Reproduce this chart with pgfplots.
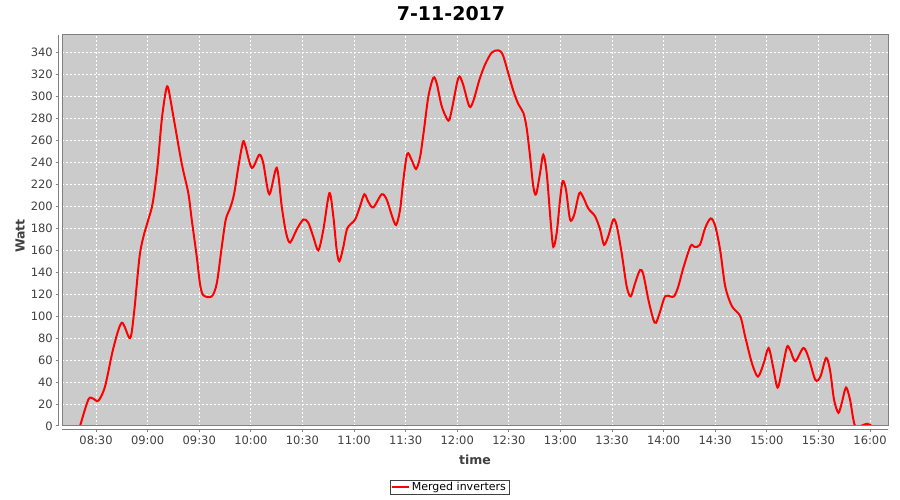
\documentclass[border=0pt]{standalone}
\usepackage{fontspec}
\setmainfont{DejaVu Sans}
\usepackage{pgfplots}
\pgfplotsset{compat=1.18}
\definecolor{plotbg}{HTML}{CBCBCB}
\definecolor{boxgray}{HTML}{808080}
\definecolor{labelgray}{HTML}{404040}

\begin{document}
\begin{tikzpicture}
\useasboundingbox (0pt,0pt) rectangle (900pt,500pt);
\begin{axis}[
  at={(62pt,74pt)}, anchor=south west,
  scale only axis, width=826pt, height=391pt,
  xmin=8.17, xmax=16.174, ymin=0, ymax=356,
  xtick={8.5,9,9.5,10,10.5,11,11.5,12,12.5,13,13.5,14,14.5,15,15.5,16},
  xticklabels={08:30,09:00,09:30,10:00,10:30,11:00,11:30,12:00,12:30,13:00,13:30,14:00,14:30,15:00,15:30,16:00},
  ytick={0,20,40,60,80,100,120,140,160,180,200,220,240,260,280,300,320,340},
  axis line style={draw=none},
  major tick length=0pt,
  axis background/.style={fill=plotbg},
  grid=major,
  grid style={white, line width=0.8pt, dash pattern=on 2pt off 2pt},
  clip mode=individual,
  tick label style={font=\fontsize{11.5}{13}\selectfont, text=labelgray, inner sep=0pt},
  xticklabel style={anchor=north, yshift=-10pt},
  yticklabel style={anchor=east, xshift=-9pt},
  /pgf/number format/assume math mode=true,
  xlabel={time}, ylabel={Watt},
  label style={font=\bfseries\fontsize{12.5}{14}\selectfont, text=labelgray},
  xlabel style={at={(axis description cs:0.5,-0.087)}, anchor=center},
  ylabel style={at={(axis description cs:-0.0508,0.486)}, anchor=center},
  legend style={at={(axis description cs:0.469,-0.156)}, anchor=center,
    draw=labelgray, line width=0.6pt, font=\fontsize{11}{13}\selectfont,
    inner xsep=1pt, inner ysep=0pt},
  legend image code/.code={\draw[red, line width=2pt] (0pt,0pt) -- (17pt,0pt);},
]
\addplot[red, line width=2pt, smooth, tension=0.5] coordinates {
(8.345,0) (8.425,24) (8.47,25) (8.522,23) (8.587,36) (8.668,71) (8.749,94)
(8.829,80) (8.868,103) (8.920,153) (8.958,172) (9.007,188) (9.049,203)
(9.094,235) (9.137,279) (9.178,306) (9.201,307) (9.249,282) (9.330,239)
(9.394,212) (9.427,188) (9.476,154) (9.508,129) (9.540,119) (9.621,118)
(9.670,130) (9.718,163) (9.757,188) (9.798,198) (9.837,211) (9.879,236)
(9.922,258) (9.944,256) (10.009,235) (10.082,247) (10.121,239) (10.179,211)
(10.251,235) (10.299,200) (10.341,176) (10.380,167) (10.445,179) (10.509,188)
(10.557,185) (10.606,172) (10.654,160) (10.703,179) (10.761,212) (10.799,191)
(10.832,160) (10.858,150) (10.896,163) (10.935,180) (11.010,188) (11.058,200)
(11.100,211) (11.139,204) (11.187,199) (11.268,211) (11.317,206) (11.365,192)
(11.407,183) (11.446,197) (11.478,224) (11.516,248) (11.559,242) (11.601,234)
(11.640,245) (11.678,270) (11.720,300) (11.768,317) (11.801,312) (11.850,291)
(11.914,278) (11.947,288) (12.011,317) (12.053,312) (12.117,291) (12.156,296)
(12.214,315) (12.269,329) (12.334,340) (12.398,342) (12.441,338) (12.495,321)
(12.544,305) (12.592,293) (12.641,285) (12.673,271) (12.705,246) (12.737,218)
(12.764,211) (12.802,230) (12.834,247) (12.867,230) (12.906,185) (12.931,163)
(12.964,176) (12.996,206) (13.022,223) (13.054,215) (13.093,188) (13.132,192)
(13.183,212) (13.222,208) (13.270,198) (13.335,191) (13.384,179) (13.422,165)
(13.464,173) (13.513,188) (13.546,182) (13.594,157) (13.642,127) (13.681,118)
(13.723,130) (13.771,142) (13.803,138) (13.852,115) (13.900,97) (13.926,94)
(13.965,104) (14.013,118) (14.062,118) (14.101,118) (14.142,127) (14.191,144)
(14.262,164) (14.300,163) (14.352,165) (14.401,180) (14.456,189) (14.500,182)
(14.548,160) (14.597,127) (14.662,109) (14.742,100) (14.791,81) (14.856,57)
(14.914,45) (14.969,57) (15.017,71) (15.060,54) (15.104,35) (15.147,51)
(15.195,72) (15.227,69) (15.276,59) (15.354,71) (15.405,62) (15.470,42)
(15.519,45) (15.574,62) (15.612,51) (15.651,24) (15.693,12) (15.726,21)
(15.767,35) (15.806,24) (15.855,0) (15.935,1) (15.974,2) (16.017,0)
};
\addlegendentry{Merged inverters}
% plot outline and the offset axis lines
\draw[boxgray, line width=1pt] (rel axis cs:0,0) rectangle (rel axis cs:1,1);
\draw[boxgray, line width=1pt] ([xshift=-4pt]rel axis cs:0,0) -- ([xshift=-4pt]rel axis cs:0,1);
\draw[boxgray, line width=1pt] ([yshift=-4pt]rel axis cs:0,0) -- ([yshift=-4pt]rel axis cs:1,0);
\pgfplotsinvokeforeach{0,20,40,60,80,100,120,140,160,180,200,220,240,260,280,300,320,340}{
  \draw[boxgray, line width=1pt] ([xshift=-4pt]axis cs:8.17,#1) -- ++(-2pt,0pt);
}
\pgfplotsinvokeforeach{8.5,9,9.5,10,10.5,11,11.5,12,12.5,13,13.5,14,14.5,15,15.5,16}{
  \draw[boxgray, line width=1pt] ([yshift=-4pt]axis cs:#1,0) -- ++(0pt,-2pt);
}
\end{axis}
\node[font=\bfseries\fontsize{19}{22}\selectfont] at (451pt,486pt) {7-11-2017};
\end{tikzpicture}
\end{document}
